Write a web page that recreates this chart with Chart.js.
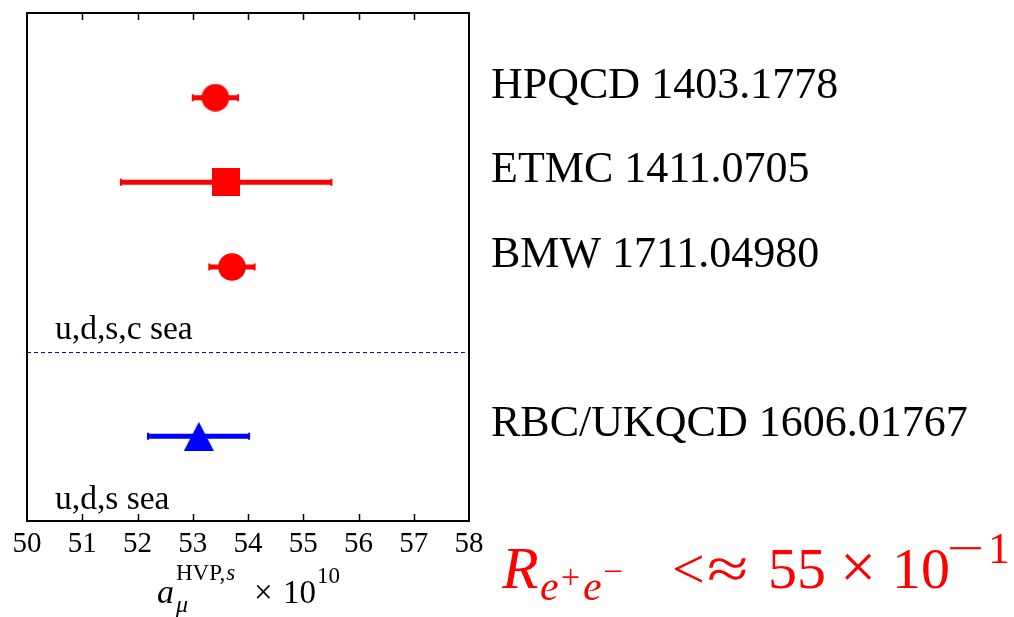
<!DOCTYPE html>
<html>
<head>
<meta charset="utf-8">
<script src="https://cdn.jsdelivr.net/npm/chart.js@4"></script>
<style>
  html, body { margin: 0; padding: 0; background: #fff; }
  canvas { display: block; }
</style>
</head>
<body>
<canvas id="c" width="1014" height="617"></canvas>
<script>
// ---- data ----
const groups = ['HPQCD 1403.1778', 'ETMC 1411.0705', 'BMW 1711.04980', 'RBC/UKQCD 1606.01767'];
const rows = [1, 2, 3, 5];
const central = [53.41, 53.61, 53.71, 53.11];
const errLow = [53.00, 51.70, 53.30, 52.19];
const errHigh = [53.82, 55.51, 54.12, 54.02];
const markerColors = ['#ff0000', '#ff0000', '#ff0000', '#0000ff'];
const markerKinds = ['circle', 'square', 'circle', 'triangle'];
const separatorRow = 4;
const seaLabels = ['u,d,s,c sea', 'u,d,s sea'];
const seaRows = [3.7, 5.7];
const xTicks = [50, 51, 52, 53, 54, 55, 56, 57, 58];

// marker images (drawn by Chart.js at each data point)
function makeMarker(kind, color) {
  const c = document.createElement('canvas');
  const g = c.getContext('2d');
  if (kind === 'circle') {
    c.width = 28; c.height = 28;
    g.fillStyle = color;
    g.beginPath(); g.arc(14, 14, 13.8, 0, Math.PI * 2); g.fill();
  } else if (kind === 'square') {
    c.width = 28; c.height = 28;
    g.fillStyle = color;
    g.fillRect(0, 0, 28, 28);
  } else {
    c.width = 30; c.height = 29;
    g.fillStyle = color;
    g.beginPath();
    g.moveTo(15, 0); g.lineTo(30, 29); g.lineTo(0, 29); g.closePath();
    g.fill();
  }
  return c;
}
const markerStyles = markerKinds.map((k, i) => makeMarker(k, markerColors[i]));

const SERIF = '"Liberation Serif", "Times New Roman", serif';

function wideText(ctx, t, x, y, sx) {
  ctx.save();
  ctx.translate(x, y);
  ctx.scale(sx, 1);
  ctx.fillText(t, 0, 0);
  ctx.restore();
}

const overlay = {
  id: 'overlay',
  beforeDatasetsDraw(chart) {
    const { ctx, chartArea: a, scales: { x, y } } = chart;
    ctx.save();
    // separator
    ctx.strokeStyle = '#0000ff';
    ctx.lineWidth = 1;
    ctx.setLineDash([4, 3]);
    const sy = Math.round(y.getPixelForValue(separatorRow)) + 0.5;
    ctx.beginPath(); ctx.moveTo(a.left, sy); ctx.lineTo(a.right, sy); ctx.stroke();
    ctx.setLineDash([]);
    // error bars
    for (let i = 0; i < central.length; i++) {
      const py = y.getPixelForValue(rows[i]);
      const x0 = x.getPixelForValue(errLow[i]);
      const x1 = x.getPixelForValue(errHigh[i]);
      ctx.strokeStyle = markerColors[i];
      ctx.lineWidth = 5;
      ctx.beginPath(); ctx.moveTo(x0, py); ctx.lineTo(x1, py); ctx.stroke();
      ctx.lineWidth = 2;
      ctx.beginPath();
      ctx.moveTo(x0, py - 3.5); ctx.lineTo(x0, py + 3.5);
      ctx.moveTo(x1, py - 3.5); ctx.lineTo(x1, py + 3.5);
      ctx.stroke();
    }
    ctx.restore();
  },
  afterDraw(chart) {
    const { ctx, chartArea: a, scales: { x, y } } = chart;
    ctx.save();
    // frame
    ctx.strokeStyle = '#000';
    ctx.lineWidth = 2;
    ctx.strokeRect(a.left, a.top, a.right - a.left, a.bottom - a.top);
    // inward ticks top & bottom
    ctx.lineWidth = 1.5;
    ctx.beginPath();
    xTicks.slice(1, -1).forEach(v => {
      const px = Math.round(x.getPixelForValue(v)) + 0.5;
      ctx.moveTo(px, a.bottom); ctx.lineTo(px, a.bottom - 7);
      ctx.moveTo(px, a.top); ctx.lineTo(px, a.top + 7);
    });
    ctx.stroke();

    ctx.fillStyle = '#000';
    ctx.textBaseline = 'alphabetic';
    ctx.textAlign = 'left';
    // right labels
    ctx.font = '44px ' + SERIF;
    groups.forEach((g, i) => {
      ctx.fillText(g, 491, y.getPixelForValue(rows[i]));
    });
    // sea labels
    ctx.font = '33.5px ' + SERIF;
    seaLabels.forEach((s, i) => {
      ctx.fillText(s, 55, y.getPixelForValue(seaRows[i]) + 13);
    });

    // axis title: a_mu^{HVP,s} x 10^{10}
    const base = 603;
    ctx.font = 'italic 34px ' + SERIF;
    ctx.fillText('a', 157, base);
    ctx.font = 'italic 24px ' + SERIF;
    ctx.fillText('\u03bc', 176, base + 9);
    ctx.font = '23px ' + SERIF;
    ctx.fillText('HVP,', 176, base - 23);
    const w = ctx.measureText('HVP,').width;
    ctx.font = 'italic 23px ' + SERIF;
    ctx.fillText('s', 176 + w + 1, base - 23);
    ctx.font = '33px ' + SERIF;
    ctx.fillText('\u00d7', 254, base);
    ctx.fillText('10', 283, base);
    ctx.font = '23px ' + SERIF;
    ctx.fillText('10', 317, base - 20);

    // red formula
    ctx.fillStyle = '#ff0000';
    const fb = 588;
    ctx.font = 'italic 60px ' + SERIF;
    ctx.fillText('R', 502, fb);
    ctx.font = 'italic 42px ' + SERIF;
    ctx.fillText('e', 540, fb + 12);
    ctx.font = '34px ' + SERIF;
    ctx.fillText('+', 561, fb);
    ctx.font = 'italic 42px ' + SERIF;
    ctx.fillText('e', 583, fb + 12);
    ctx.font = '32px ' + SERIF;
    wideText(ctx, '\u2212', 603, fb - 6, 1.1);
    ctx.font = '58px ' + SERIF;
    ctx.fillText('<', 672, fb);
    wideText(ctx, '\u2248', 707, fb, 1.3);
    ctx.fillText('55', 768, fb);
    ctx.font = '64px ' + SERIF;
    ctx.fillText('\u00d7', 840, fb);
    ctx.font = '58px ' + SERIF;
    ctx.fillText('10', 892, fb);
    ctx.font = '44px ' + SERIF;
    wideText(ctx, '\u2212', 947, fb - 25, 1.5);
    ctx.fillText('1', 988, fb - 25);
    ctx.restore();
  }
};

new Chart(document.getElementById('c'), {
  type: 'scatter',
  data: {
    datasets: [{
      data: central.map((v, i) => ({ x: v, y: rows[i] })),
      pointStyle: markerStyles,
      pointRadius: 1,
      pointHoverRadius: 1,
      pointBorderWidth: 0,
      showLine: false
    }]
  },
  options: {
    responsive: false,
    animation: false,
    devicePixelRatio: 1,
    layout: { padding: { left: 27, top: 13, right: 545, bottom: 0 } },
    plugins: { legend: { display: false }, tooltip: { enabled: false } },
    scales: {
      x: {
        type: 'linear',
        position: 'bottom',
        min: xTicks[0],
        max: xTicks[xTicks.length - 1],
        afterBuildTicks: s => { s.ticks = xTicks.map(v => ({ value: v })); },
        afterFit: s => { s.height = 96; },
        grid: { display: false, drawTicks: false },
        border: { display: false },
        ticks: {
          padding: 6,
          color: '#000',
          maxRotation: 0,
          autoSkip: false,
          font: { family: SERIF, size: 29 }
        }
      },
      y: {
        type: 'linear',
        min: 0,
        max: 6,
        reverse: true,
        display: false
      }
    }
  },
  plugins: [overlay]
});
</script>
</body>
</html>
